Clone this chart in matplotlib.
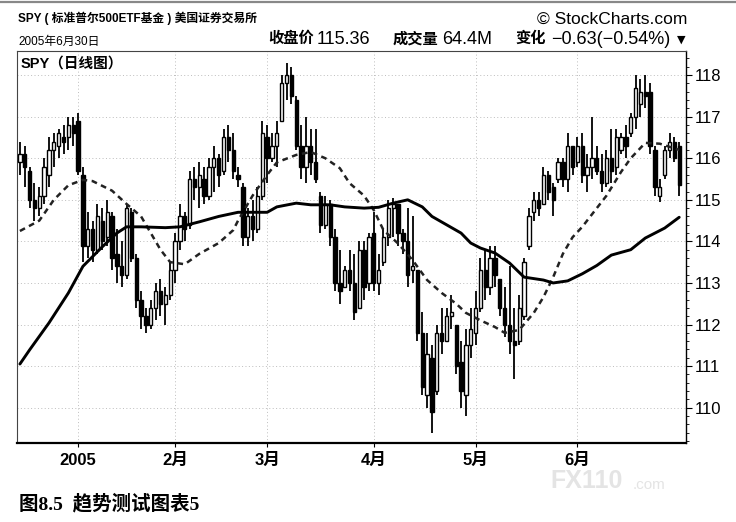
import numpy as np
import matplotlib
matplotlib.use("Agg")
import matplotlib.pyplot as plt
from matplotlib.lines import Line2D
from matplotlib.patches import Rectangle

plt.rcParams['font.family'] = ['Liberation Sans', 'Noto Sans CJK SC', 'DejaVu Sans']

# x positions are trading-day numbers (0 = 2004-12-15, 136 = 2005-06-30)
month_pos = [12, 32, 51, 73, 94, 115]
month_labels = ['2005', '2月', '3月', '4月', '5月', '6月']

opens = [115.9, 116.1, 115.7, 115.0, 114.8, 115.1, 115.6, 116.2, 116.3, 116.5,
         116.5, 116.8, 116.9, 115.6, 113.9, 114.3, 113.8, 114.5, 114.1, 114.6,
         113.7, 113.4, 113.2, 114.7, 113.6, 112.6, 112.2, 112.0, 112.4, 112.8,
         112.5, 112.7, 113.3, 114.0, 114.6, 114.4, 115.5, 115.3, 115.5, 115.1,
         115.8, 116.0, 115.7, 116.5, 116.2, 115.6, 115.3, 114.1, 114.6, 114.3,
         115.1, 116.5, 116.0, 116.3, 116.9, 117.8, 118.0, 117.4, 116.3, 115.8,
         116.3, 115.9, 115.1, 114.4, 114.9, 114.1, 113.0, 112.9, 113.3, 113.0,
         112.4, 113.8, 113.0, 114.2, 113.0, 113.5, 114.1, 114.8, 114.9, 114.2,
         114.0, 113.3, 113.3, 111.8, 110.3, 111.2, 110.4, 111.8, 111.6, 112.2,
         112.0, 111.1, 110.3, 111.5, 111.8, 112.4, 113.3, 112.9, 113.6, 113.1,
         112.4, 112.0, 111.6, 111.6, 112.2, 113.9, 114.7, 115.0, 114.9, 115.6,
         115.3, 115.5, 115.9, 115.5, 116.3, 115.9, 116.3, 115.6, 115.8, 116.0,
         115.7, 115.4, 116.0, 115.8, 116.2, 116.5, 116.6, 117.0, 117.3, 117.6,
         117.6, 116.2, 115.1, 115.6, 116.2, 116.4, 116.3]
highs = [116.4, 116.3, 115.8, 115.4, 115.3, 116.0, 116.5, 116.6, 116.7, 116.8,
         117.0, 117.0, 117.1, 115.8, 114.7, 114.5, 114.9, 114.8, 115.0, 114.7,
         114.3, 114.0, 114.9, 114.8, 113.7, 112.8, 112.4, 112.6, 113.0, 113.1,
         112.9, 113.5, 114.2, 114.9, 114.7, 115.7, 115.8, 115.9, 115.8, 116.0,
         116.3, 116.1, 116.7, 116.8, 116.6, 115.8, 115.4, 114.8, 115.0, 115.3,
         116.9, 116.8, 116.6, 116.9, 118.0, 118.3, 118.2, 117.5, 116.8, 117.0,
         116.7, 116.7, 115.2, 115.1, 115.0, 114.3, 113.8, 113.4, 113.8, 113.7,
         114.0, 114.0, 114.2, 114.7, 113.7, 114.3, 115.0, 115.05, 114.9, 114.3,
         114.8, 114.6, 113.3, 112.3, 111.8, 111.5, 112.0, 112.4, 112.4, 112.7,
         112.0, 111.6, 111.9, 112.4, 112.8, 113.6, 113.8, 113.9, 113.9, 113.1,
         112.9, 113.4, 112.4, 112.7, 113.6, 114.8, 115.2, 115.2, 115.8, 115.7,
         115.4, 116.0, 116.0, 116.6, 116.3, 116.5, 116.6, 116.1, 117.0, 116.3,
         116.1, 116.2, 116.7, 116.7, 116.6, 116.8, 117.1, 118.0, 117.9, 118.0,
         117.8, 116.3, 115.5, 116.3, 116.6, 116.5, 116.4]
lows = [115.6, 115.3, 114.8, 114.5, 114.6, 114.9, 115.3, 115.8, 116.0, 116.1,
        116.2, 116.3, 115.6, 113.5, 113.6, 113.5, 113.7, 113.8, 113.9, 113.3,
        113.0, 112.9, 113.1, 113.5, 112.4, 111.9, 111.8, 111.9, 112.1, 112.2,
        112.0, 112.6, 113.0, 113.8, 114.0, 114.3, 115.0, 114.8, 114.9, 115.0,
        115.2, 115.3, 115.6, 115.9, 115.5, 115.3, 113.9, 113.9, 114.0, 114.2,
        115.0, 115.4, 115.9, 115.8, 116.9, 117.4, 117.3, 116.2, 115.5, 115.4,
        115.6, 115.4, 114.2, 114.3, 113.9, 112.8, 112.5, 112.9, 112.8, 112.1,
        112.4, 112.6, 112.8, 112.8, 112.7, 113.4, 113.9, 114.1, 113.9, 113.7,
        112.9, 113.0, 111.6, 110.3, 110.0, 109.4, 110.3, 111.3, 111.6, 111.9,
        110.8, 110.0, 109.8, 111.2, 111.5, 112.3, 112.6, 112.7, 112.9, 112.2,
        111.7, 111.3, 110.7, 111.5, 112.1, 113.8, 114.5, 114.6, 114.9, 115.0,
        114.6, 115.4, 115.3, 115.2, 115.6, 115.8, 115.4, 115.2, 115.5, 115.6,
        115.2, 115.3, 115.4, 115.6, 116.1, 116.0, 116.5, 116.7, 117.0, 117.2,
        116.1, 115.1, 114.95, 115.5, 116.0, 115.9, 115.1]
closes = [116.1, 115.8, 115.0, 114.8, 115.1, 115.8, 116.2, 116.4, 116.6, 116.4,
          116.8, 116.6, 115.7, 113.9, 114.3, 113.8, 114.6, 114.0, 114.7, 113.6,
          113.4, 113.2, 114.8, 113.6, 112.6, 112.2, 112.0, 112.4, 112.8, 112.5,
          112.7, 113.3, 114.0, 114.6, 114.3, 115.5, 115.3, 115.6, 115.1, 115.8,
          116.0, 115.6, 116.5, 116.2, 115.7, 115.5, 114.1, 114.6, 114.3, 115.1,
          116.6, 116.0, 116.3, 116.6, 117.8, 118.0, 117.5, 116.3, 115.8, 116.3,
          115.9, 115.5, 114.4, 114.9, 114.1, 113.0, 112.8, 113.3, 113.0, 112.3,
          113.8, 112.9, 114.1, 113.0, 113.3, 114.1, 114.8, 114.9, 114.2, 114.0,
          113.2, 113.4, 111.8, 110.5, 111.3, 109.9, 111.8, 111.6, 112.2, 112.3,
          111.0, 110.4, 111.5, 111.9, 112.4, 113.3, 112.9, 113.6, 113.2, 112.4,
          112.0, 111.6, 111.5, 112.4, 113.5, 114.6, 115.0, 114.8, 115.6, 115.2,
          115.0, 115.9, 115.5, 116.3, 115.8, 116.3, 115.6, 115.8, 116.0, 115.7,
          115.4, 116.0, 115.7, 116.5, 116.5, 116.3, 117.0, 117.7, 117.6, 117.5,
          116.3, 115.3, 115.3, 116.2, 116.4, 116.0, 115.36]

# moving averages at selected days
ma20_idx = [0, 4, 7, 10, 13, 15, 19, 22, 25, 27, 29, 31, 34, 37, 41, 44, 45, 48,
            51, 53, 57, 60, 63, 66, 68, 71, 73, 75, 78, 81, 84, 87, 90, 92, 95,
            98, 100, 103, 106, 108, 110, 112, 114, 116, 118, 121, 124, 126, 129,
            132, 136]
ma20_val = [114.25, 114.5, 115.0, 115.35, 115.48, 115.45, 115.22, 114.9, 114.6,
            114.2, 113.8, 113.5, 113.45, 113.7, 113.96, 114.27, 114.5, 115.1,
            115.6, 115.9, 116.08, 116.15, 116.0, 115.76, 115.4, 115.1, 114.75,
            114.27, 113.95, 113.55, 113.07, 112.76, 112.5, 112.28, 112.1, 111.94,
            111.8, 111.87, 112.28, 112.66, 113.14, 113.7, 114.1, 114.35, 114.65,
            115.1, 115.67, 116.0, 116.37, 116.35, 116.2]
ma50_idx = [0, 2, 6, 10, 13, 17, 20, 22, 25, 30, 33, 37, 41, 45, 51, 53, 57, 60,
            64, 67, 71, 74, 77, 80, 83, 85, 88, 91, 93, 95, 98, 101, 104, 108,
            110, 113, 116, 119, 122, 126, 129, 133, 136]
ma50_val = [111.05, 111.39, 112.04, 112.76, 113.4, 113.87, 114.2, 114.35, 114.35,
            114.33, 114.35, 114.47, 114.6, 114.7, 114.7, 114.83, 114.92, 114.88,
            114.88, 114.83, 114.8, 114.82, 114.92, 115.0, 114.83, 114.6, 114.4,
            114.2, 113.96, 113.84, 113.72, 113.48, 113.14, 113.07, 113.0, 113.05,
            113.22, 113.42, 113.67, 113.8, 114.08, 114.32, 114.58]

W, H = 736, 522


def fx(x):
    return x / W


def fy(y):
    return 1 - y / H


fig = plt.figure(figsize=(W / 100, H / 100), dpi=100)
fig.patch.set_facecolor('white')
ax = fig.add_axes([fx(17), fy(443), (686 - 17) / W, (443 - 51) / H])

# candles
bw = 0.68
for i in range(len(closes)):
    o, h, l, c = opens[i], highs[i], lows[i], closes[i]
    ax.vlines(i, l, h, color='black', lw=1.3, zorder=3)
    body = max(abs(c - o), 0.04)
    face = 'white' if c >= o else 'black'
    ax.add_patch(Rectangle((i - bw / 2, min(o, c)), bw, body,
                           facecolor=face, edgecolor='black', lw=1.0, zorder=4))

ax.plot(ma20_idx, ma20_val, color='#222222', lw=1.8, ls=(0, (2.3, 1.8)), zorder=5)
ax.plot(ma50_idx, ma50_val, color='black', lw=2.1, zorder=5, solid_capstyle='round')

ax.set_xlim(-0.6, 137.4)
ax.set_ylim(109.15, 118.58)

ax.yaxis.tick_right()
ax.set_yticks(range(110, 119))
ax.set_yticks(np.arange(109.2, 118.6, 0.2), minor=True)
ax.tick_params(axis='y', which='major', length=4, width=0.8, pad=2, labelsize=12)
ax.tick_params(axis='y', which='minor', length=2, width=0.6)
ax.set_xticks(month_pos)
ax.set_xticklabels(month_labels)
for t in ax.get_xticklabels():
    t.set_fontweight('bold')
ax.tick_params(axis='x', length=3, width=0.8, pad=4, labelsize=12)

ax.grid(True, which='major', color='#bdbdbd', lw=0.7, ls=(0, (1, 2.5)))
ax.set_axisbelow(True)

for side in ['left', 'top']:
    ax.spines[side].set_linewidth(0.8)
    ax.spines[side].set_color('#444444')
ax.spines['right'].set_linewidth(1.0)
ax.spines['bottom'].set_linewidth(1.6)

ax.text(0.006, 0.985, 'SPY（日线图）', transform=ax.transAxes, ha='left', va='top',
        fontsize=10.5, fontweight='bold', zorder=6)

# page border line at the very top
fig.add_artist(Line2D([0, 1], [fy(1.5), fy(1.5)], color='#888888', lw=1.6))

# header
fig.text(fx(18), fy(18), 'SPY ( 标准普尔500ETF基金 ) 美国证券交易所', ha='left', va='center',
         fontsize=8.5, fontweight='bold')
fig.text(fx(687), fy(19.5), '© StockCharts.com', ha='right', va='center', fontsize=12.5)
fig.text(fx(18), fy(42), '2005年6月30日', ha='left', va='center', fontsize=8.5)

pieces = [(268, '收盘价', True), (317, '115.36', False), (393, '成交量', True),
          (442, '64.4M', False), (515, '变化', True), (551, '−0.63(−0.54%)', False)]
for x, s, bold in pieces:
    fig.text(fx(x), fy(39), s, ha='left', va='center',
             fontsize=11 if bold else 13, fontweight='bold' if bold else 'normal')
fig.text(fx(677), fy(40), '▼', ha='left', va='center', fontsize=8,
         family=['DejaVu Sans'])

# watermark
fig.text(fx(550), fy(481), 'FX110', ha='left', va='center', fontsize=18,
         fontweight='bold', color='#e4e4e4')
fig.text(fx(633), fy(485), '.com', ha='left', va='center', fontsize=11,
         color='#e4e4e4')

# caption
fig.text(fx(19), fy(504), '图8.5  趋势测试图表5', ha='left', va='center', fontsize=14,
         fontweight='bold', family=['Liberation Serif', 'Noto Sans CJK SC'])

fig.savefig('out.png', dpi=100, facecolor='white')
